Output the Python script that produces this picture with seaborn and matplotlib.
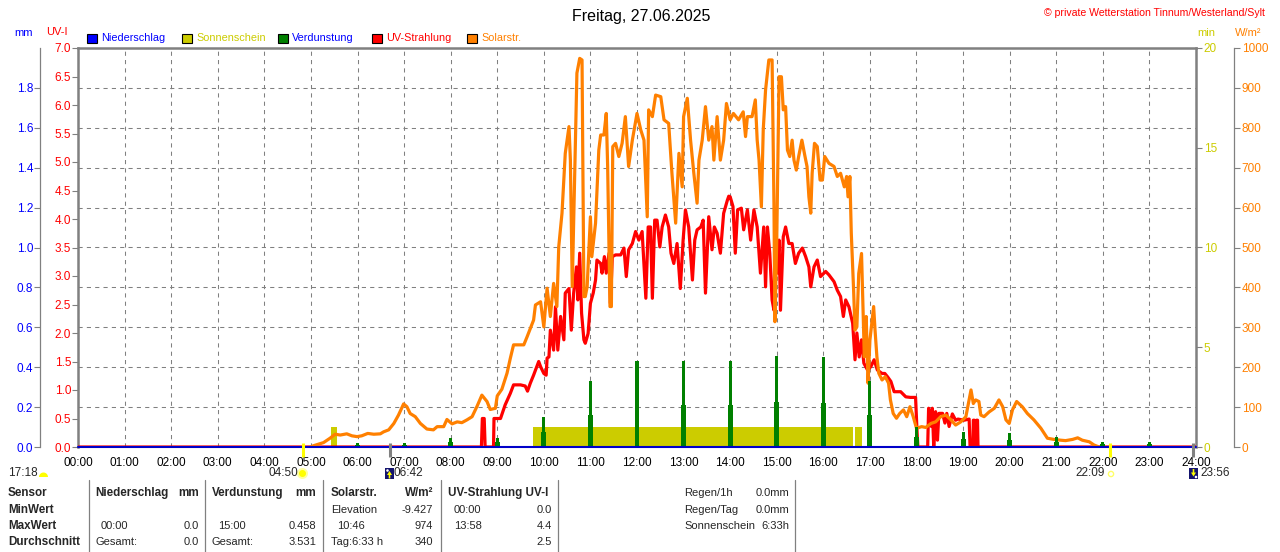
import numpy as np
import pandas as pd
import matplotlib
matplotlib.use("Agg")
import matplotlib.pyplot as plt
import seaborn as sns
from matplotlib.patches import Rectangle, Polygon
from matplotlib.lines import Line2D
from matplotlib.ticker import FormatStrFormatter

# ---------------- data ----------------
hours = list(range(25))
hour_labels = [f"{h:02d}:00" for h in hours]

solar_time = [
    5.00, 5.05, 5.27, 5.41, 5.52, 5.63, 5.77, 5.88, 5.99, 6.09,
    6.22, 6.35, 6.49, 6.56, 6.67, 6.78, 6.88, 6.99, 7.06, 7.13,
    7.24, 7.35, 7.49, 7.63, 7.71, 7.85, 7.92, 8.03, 8.14, 8.24,
    8.35, 8.46, 8.57, 8.67, 8.78, 8.85, 8.96, 9.00, 9.10, 9.21,
    9.28, 9.35, 9.57, 9.64, 9.78, 9.82, 9.93, 10.00, 10.07, 10.14,
    10.21, 10.28, 10.32, 10.39, 10.46, 10.54, 10.57, 10.61, 10.68, 10.71,
    10.77, 10.82, 10.86, 10.89, 10.93, 11.00, 11.03, 11.11, 11.18, 11.22,
    11.29, 11.34, 11.37, 11.42, 11.45, 11.48, 11.54, 11.61, 11.68, 11.75,
    11.82, 11.90, 12.00, 12.08, 12.15, 12.22, 12.25, 12.33, 12.40, 12.51,
    12.58, 12.68, 12.75, 12.83, 12.90, 12.97, 13.00, 13.08, 13.15, 13.22,
    13.29, 13.33, 13.40, 13.47, 13.54, 13.61, 13.65, 13.72, 13.79, 13.86,
    13.92, 14.00, 14.07, 14.18, 14.28, 14.33, 14.37, 14.47, 14.54, 14.58,
    14.62, 14.67, 14.71, 14.76, 14.83, 14.90, 14.94, 14.96, 15.00, 15.05,
    15.10, 15.14, 15.19, 15.23, 15.28, 15.33, 15.37, 15.42, 15.47, 15.54,
    15.60, 15.65, 15.69, 15.73, 15.76, 15.81, 15.87, 15.93, 15.98, 16.03,
    16.12, 16.23, 16.30, 16.37, 16.45, 16.50, 16.53, 16.57, 16.60, 16.65,
    16.68, 16.72, 16.76, 16.82, 16.85, 16.88, 16.92, 16.96, 17.00, 17.04,
    17.08, 17.11, 17.15, 17.19, 17.26, 17.33, 17.40, 17.44, 17.50, 17.57,
    17.64, 17.72, 17.79, 17.86, 17.93, 18.00, 18.11, 18.20, 18.31, 18.41,
    18.52, 18.63, 18.74, 18.84, 18.95, 19.06, 19.13, 19.17, 19.22, 19.27,
    19.34, 19.38, 19.45, 19.56, 19.67, 19.77, 19.85, 19.92, 19.99, 20.06,
    20.15, 20.27, 20.38, 20.52, 20.67, 20.81, 20.95, 21.10, 21.20, 21.35,
    21.46, 21.56, 21.71, 21.81, 21.92,
]
solar_wm2 = [
    0, 3, 11, 22, 32, 30, 33, 28, 26, 28,
    34, 32, 33, 38, 43, 59, 80, 108, 101, 84,
    76, 59, 45, 43, 51, 51, 69, 58, 63, 61,
    68, 76, 103, 130, 114, 94, 97, 128, 145, 185,
    222, 256, 256, 276, 318, 356, 364, 301, 398, 327,
    410, 352, 502, 586, 736, 803, 719, 402, 769, 937,
    974, 970, 377, 377, 402, 577, 477, 561, 744, 782,
    782, 836, 703, 352, 352, 753, 761, 728, 761, 828,
    703, 769, 836, 795, 769, 577, 845, 828, 882, 878,
    820, 811, 686, 561, 736, 652, 828, 874, 769, 686,
    611, 719, 769, 853, 769, 803, 719, 828, 719, 769,
    861, 820, 836, 820, 840, 778, 828, 828, 870, 769,
    719, 602, 795, 895, 970, 970, 611, 314, 519, 928,
    928, 845, 853, 744, 728, 769, 719, 694, 728, 769,
    732, 703, 627, 586, 686, 761, 753, 669, 669, 728,
    711, 703, 678, 686, 652, 678, 627, 678, 536, 393,
    293, 301, 435, 485, 352, 226, 327, 160, 268, 310,
    352, 293, 226, 185, 168, 176, 160, 118, 84, 72,
    84, 93, 76, 101, 76, 47, 51, 49, 59, 63,
    76, 80, 68, 55, 63, 76, 118, 143, 109, 118,
    114, 80, 76, 88, 97, 118, 101, 68, 59, 93,
    114, 101, 84, 68, 47, 22, 19, 17, 16, 19,
    23, 17, 13, 5, 0,
]

uv_time = [
    0.00, 8.66, 8.68, 8.72, 8.74, 8.92, 8.93, 9.07, 9.17, 9.28,
    9.35, 9.50, 9.60, 9.65, 9.71, 9.78, 9.89, 9.93, 10.00, 10.05,
    10.07, 10.11, 10.14, 10.21, 10.25, 10.30, 10.36, 10.43, 10.46, 10.54,
    10.59, 10.64, 10.70, 10.73, 10.77, 10.81, 10.86, 10.89, 10.95, 11.00,
    11.06, 11.11, 11.14, 11.22, 11.25, 11.30, 11.34, 11.40, 11.43, 11.47,
    11.54, 11.65, 11.72, 11.77, 11.82, 11.90, 11.97, 12.04, 12.11, 12.19,
    12.24, 12.29, 12.33, 12.38, 12.43, 12.49, 12.54, 12.61, 12.68, 12.73,
    12.79, 12.86, 12.93, 12.99, 13.04, 13.11, 13.19, 13.24, 13.29, 13.37,
    13.42, 13.47, 13.54, 13.61, 13.66, 13.72, 13.79, 13.86, 13.94, 13.97,
    14.00, 14.06, 14.11, 14.16, 14.24, 14.29, 14.37, 14.44, 14.51, 14.58,
    14.65, 14.72, 14.76, 14.80, 14.85, 14.90, 14.94, 14.97, 15.01, 15.05,
    15.08, 15.14, 15.19, 15.26, 15.33, 15.40, 15.47, 15.55, 15.62, 15.69,
    15.73, 15.80, 15.87, 15.94, 16.05, 16.12, 16.23, 16.30, 16.37, 16.43,
    16.48, 16.55, 16.63, 16.68, 16.72, 16.77, 16.82, 16.87, 16.95, 17.02,
    17.09, 17.16, 17.26, 17.32, 17.38, 17.45, 17.52, 17.66, 17.77, 17.87,
    17.98, 18.01, 18.03, 18.24, 18.26, 18.32, 18.34, 18.37, 18.41, 18.45,
    18.48, 18.56, 18.61, 18.65, 18.70, 18.77, 18.84, 18.89, 19.02, 19.13,
    19.15, 19.21, 19.22, 19.24, 19.25, 19.28, 19.29, 19.31, 19.32, 24.00,
]
uv_index = [
    0, 0, 0.50, 0.50, 0, 0, 0.50, 0.50, 0.74, 0.94,
    1.09, 1.09, 1.07, 0.98, 1.12, 1.26, 1.50, 1.41, 1.29, 1.26,
    1.56, 1.58, 2.05, 1.70, 2.46, 1.70, 2.29, 1.88, 2.70, 2.78,
    2.05, 2.70, 3.16, 2.58, 3.40, 2.35, 1.88, 1.82, 1.99, 2.52,
    2.70, 2.93, 3.28, 3.22, 3.05, 3.34, 3.05, 3.40, 2.52, 3.34,
    3.37, 3.37, 3.49, 2.99, 3.46, 3.57, 3.78, 3.63, 3.78, 2.61,
    3.86, 3.86, 2.61, 3.98, 3.98, 3.51, 3.86, 4.07, 3.86, 3.40,
    3.22, 3.57, 2.78, 3.63, 4.16, 3.86, 2.93, 3.63, 3.81, 3.86,
    3.98, 2.70, 4.04, 3.46, 3.86, 3.75, 3.40, 4.10, 4.33, 4.40,
    4.39, 4.22, 3.40, 4.16, 4.19, 3.81, 4.16, 3.63, 4.16, 3.86,
    3.05, 3.86, 2.81, 3.86, 3.40, 2.58, 2.40, 4.10, 3.05, 3.63,
    2.40, 3.69, 3.86, 3.57, 3.57, 3.22, 3.40, 3.49, 3.34, 3.16,
    2.81, 3.16, 3.28, 2.99, 3.08, 3.02, 2.90, 2.75, 2.64, 2.29,
    2.58, 2.46, 2.17, 1.53, 2.00, 1.58, 1.88, 1.47, 1.35, 1.41,
    1.53, 1.35, 1.29, 1.29, 1.23, 1.15, 0.97, 0.97, 0.88, 0.87,
    0.87, 0.30, 0, 0, 0.68, 0.36, 0.68, 0, 0.62, 0.12,
    0.59, 0.59, 0.42, 0.59, 0.36, 0.58, 0.47, 0.49, 0.47, 0.49,
    0, 0, 0.47, 0.47, 0, 0, 0.47, 0.47, 0, 0,
]

evap_hours = [6, 7, 8, 9, 10, 11, 12, 13, 14, 15, 16, 17, 18, 19, 20, 21, 22, 23]
evap_mm = [0.02, 0.02, 0.047, 0.047, 0.15, 0.33, 0.43, 0.43, 0.43, 0.458,
           0.45, 0.33, 0.10, 0.077, 0.072, 0.049, 0.027, 0.027]
evap_side_mm = [0.01, 0.01, 0.025, 0.025, 0.077, 0.16, 0.21, 0.21, 0.21, 0.227,
                0.22, 0.16, 0.05, 0.04, 0.035, 0.025, 0.014, 0.014]

sun_start = [5.44, 9.76, 16.68]
sun_end = [5.56, 16.64, 16.83]
sun_minutes = [1, 1, 1]

rain_time = [0, 24]
rain_mm = [0.0, 0.0]

sunrise, sunset = 4 + 50 / 60, 22 + 9 / 60
moonrise, moonset = 6 + 42 / 60, 23 + 56 / 60

# ---------------- style ----------------
sns.set_theme(style="white")
REGULAR = ["Liberation Sans", "DejaVu Sans"]
plt.rcParams["font.family"] = REGULAR

GRAY = "#808080"
RED = "#FF0000"
ORANGE = "#FF8000"
GREEN = "#008000"
YELLOW = "#CCCC00"
BLUE = "#0000FF"
TICK_FS = 8.5

W, H = 1280, 552
fig = plt.figure(figsize=(12.8, 5.52), dpi=100, facecolor="white")
L, R, T, B = 78, 1196, 48, 447
rect = [L / W, 1 - B / H, (R - L) / W, (B - T) / H]

ax = fig.add_axes(rect)          # host: sunshine minutes (right), grid, x axis
ax_uv = ax.twinx()
ax_sol = ax.twinx()
ax_mm = ax.twinx()
for i, a in enumerate([ax, ax_uv, ax_sol, ax_mm]):
    a.set_zorder(i)
ax.patch.set_facecolor("white")

# sunshine (host)
ax.bar(sun_start, sun_minutes, width=np.array(sun_end) - np.array(sun_start),
       align="edge", color=YELLOW, linewidth=0)

# UV
sns.lineplot(x=uv_time, y=uv_index, ax=ax_uv, color=RED, linewidth=2.3,
             estimator=None, sort=False)
# Solar
sns.lineplot(x=solar_time, y=solar_wm2, ax=ax_sol, color=ORANGE, linewidth=2.3,
             estimator=None, sort=False)
# Evaporation
ax_mm.bar(evap_hours, evap_side_mm, width=0.105, color=GREEN, linewidth=0)
ax_mm.bar(evap_hours, evap_mm, width=0.065, color=GREEN, linewidth=0)
# Rain
sns.lineplot(x=rain_time, y=rain_mm, ax=ax_mm, color="#0000C8", linewidth=1.5,
             estimator=None, sort=False, clip_on=False)

for a in [ax, ax_uv, ax_sol, ax_mm]:
    a.set_xlim(0, 24)
    a.set_xlabel("")
    a.set_ylabel("")

# host axis
ax.set_ylim(0, 20)
ax.set_xticks(hours)
ax.set_xticklabels(hour_labels)
ax.tick_params(axis="x", which="both", length=0, pad=7.5, labelsize=TICK_FS,
               labelcolor="black", bottom=True)
ax.yaxis.tick_right()
ax.set_yticks([0, 5, 10, 15, 20])
ax.set_yticks(np.arange(0, 21, 2), minor=True)
ax.yaxis.remove_overlapping_locs = False
ax.tick_params(axis="y", which="major", right=True, left=False, labelright=True,
               labelleft=False, length=4, width=0.8, color=GRAY,
               labelcolor=YELLOW, labelsize=TICK_FS, pad=1.5)
ax.tick_params(axis="y", which="minor", length=0, right=False, left=False)
ax.grid(False)
ax.yaxis.grid(True, which="minor", color=GRAY, linestyle=(0, (4, 4)), linewidth=0.75)
ax.xaxis.grid(True, which="major", color=GRAY, linestyle=(0, (4, 4)), linewidth=0.75)
for s in ["top", "left", "right"]:
    ax.spines[s].set_color(GRAY)
    ax.spines[s].set_linewidth(1.8)
ax.spines["bottom"].set_visible(False)

# UV axis
ax_uv.set_ylim(0, 7)
ax_uv.yaxis.tick_left()
ax_uv.set_yticks(np.arange(0, 7.01, 0.5))
ax_uv.yaxis.set_major_formatter(FormatStrFormatter("%.1f"))
ax_uv.tick_params(axis="y", left=True, right=False, labelleft=True, labelright=False,
                  length=4, width=0.8, color=GRAY, labelcolor=RED, labelsize=TICK_FS, pad=1)
for s in ax_uv.spines.values():
    s.set_visible(False)

# Solar axis
ax_sol.set_ylim(0, 1000)
ax_sol.set_yticks(np.arange(0, 1001, 100))
ax_sol.tick_params(axis="y", right=True, left=False, labelright=True, labelleft=False,
                   length=4, width=0.8, color=GRAY, labelcolor=ORANGE, labelsize=TICK_FS,
                   pad=1.5)
for s in ["top", "bottom", "left"]:
    ax_sol.spines[s].set_visible(False)
ax_sol.spines["right"].set_position(("axes", (1234 - L) / (R - L)))
ax_sol.spines["right"].set_color(GRAY)
ax_sol.spines["right"].set_linewidth(0.9)

# mm axis
ax_mm.set_ylim(0, 2.0)
ax_mm.yaxis.tick_left()
ax_mm.set_yticks(np.arange(0, 1.81, 0.2))
ax_mm.yaxis.set_major_formatter(FormatStrFormatter("%.1f"))
ax_mm.tick_params(axis="y", left=True, right=False, labelleft=True, labelright=False,
                  length=4, width=0.8, color=GRAY, labelcolor=BLUE, labelsize=TICK_FS, pad=1)
for s in ["top", "bottom", "right"]:
    ax_mm.spines[s].set_visible(False)
ax_mm.spines["left"].set_visible(True)
ax_mm.spines["left"].set_position(("axes", (40 - L) / (R - L)))
ax_mm.spines["left"].set_color(GRAY)
ax_mm.spines["left"].set_linewidth(0.9)

# sun / moon markers at the time axis
trans = ax_mm.get_xaxis_transform()
for t, c in [(sunrise, "#FFFF00"), (sunset, "#FFFF00"), (moonrise, GRAY), (moonset, GRAY)]:
    ax_mm.plot([t, t], [0.01, -0.025], transform=trans, color=c, linewidth=2.2,
               clip_on=False, solid_capstyle="butt")

# ---------------- figure texts ----------------
def ftext(x, y, s, **kw):
    kw.setdefault("va", "center")
    kw.setdefault("fontsize", 8)
    fig.text(x / W, 1 - y / H, s, **kw)


def fpoly(pts, **kw):
    fig.add_artist(Polygon([(x / W, 1 - y / H) for x, y in pts], closed=True,
                           transform=fig.transFigure, **kw))


def frect(x0, y0, x1, y1, **kw):
    fig.add_artist(Rectangle((x0 / W, 1 - y1 / H), (x1 - x0) / W, (y1 - y0) / H,
                             transform=fig.transFigure, **kw))


def fcircle(cx, cy, r, **kw):
    th = np.linspace(0, 2 * np.pi, 40)
    fpoly(list(zip(cx + r * np.cos(th), cy + r * np.sin(th))), **kw)


ftext(641.5, 16, "Freitag, 27.06.2025", ha="center", fontsize=11.5, color="black")
ftext(1265, 12.5, "\u00a9 private Wetterstation Tinnum/Westerland/Sylt", ha="right",
      color=RED, fontsize=7.6)

ftext(14, 33, "mm", ha="left", color=BLUE, fontsize=8)
ftext(46, 32, "UV-I", ha="left", color=RED, fontsize=8)
ftext(1197, 33, "min", ha="left", color=YELLOW, fontsize=8)
ftext(1235, 33, "W/m\u00b2", ha="left", color=ORANGE, fontsize=8)

legend_items = [
    (87, "Niederschlag", BLUE, BLUE),
    (182, "Sonnenschein", YELLOW, YELLOW),
    (277.5, "Verdunstung", GREEN, BLUE),
    (372, "UV-Strahlung", RED, RED),
    (467, "Solarstr.", ORANGE, ORANGE),
]
for x0, lab, fc, tc in legend_items:
    frect(x0, 33.5, x0 + 10, 42.5, facecolor=fc, edgecolor="black", linewidth=0.8)
    ftext(x0 + 14, 38, lab, ha="left", color=tc, fontsize=7.8)

# sun / moon time labels
ftext(8, 473.5, "17:18", ha="left", fontsize=TICK_FS)
th = np.linspace(0, np.pi, 20)
fpoly(list(zip(43.5 + 4.5 * np.cos(th), 477 - 4.5 * np.sin(th))), facecolor="#FFFF00",
      edgecolor="none")
ftext(298, 473.5, "04:50", ha="right", fontsize=TICK_FS)
fcircle(302.5, 473.5, 5.5, facecolor="#FFFFA0", edgecolor="none")
fcircle(302.5, 473.5, 3.5, facecolor="#FFFF00", edgecolor="none")
frect(385, 468, 393.5, 479, facecolor="#14146E", edgecolor="none")
fcircle(387.5, 470.5, 1.3, facecolor="white", edgecolor="none")
fpoly([(389.5, 471), (392, 475), (390.3, 475), (390.3, 478.5), (388.7, 478.5),
       (388.7, 475), (387, 475)], facecolor="#FFFF00", edgecolor="none")
ftext(394, 473.5, "06:42", ha="left", fontsize=TICK_FS)
ftext(1105, 473.5, "22:09", ha="right", fontsize=TICK_FS)
fcircle(1111, 474, 2.6, facecolor="none", edgecolor="#FFFF66", linewidth=1)
frect(1189, 468, 1198, 479, facecolor="#14146E", edgecolor="none")
fcircle(1196, 477, 1.3, facecolor="white", edgecolor="none")
fpoly([(1193.5, 476.5), (1191, 472.5), (1192.7, 472.5), (1192.7, 469), (1194.3, 469),
       (1194.3, 472.5), (1196, 472.5)], facecolor="#FFFF00", edgecolor="none")
ftext(1200, 473.5, "23:56", ha="left", fontsize=TICK_FS)

# table separators
for xs in [89, 205, 323, 441, 558, 795]:
    fig.add_artist(Line2D([xs / W, xs / W], [1 - 480 / H, 0], color=GRAY,
                          linewidth=0.9, transform=fig.transFigure))

rows = [493, 510, 526, 542]
BOLD = dict(fontweight="bold", fontsize=8.4)
REG = dict(fontsize=8)
ftext(8, rows[0], "Sensor", ha="left", **BOLD)
ftext(8, rows[1], "MinWert", ha="left", **BOLD)
ftext(8, rows[2], "MaxWert", ha="left", **BOLD)
ftext(8, rows[3], "Durchschnitt", ha="left", **BOLD)
ftext(95, rows[0], "Niederschlag", ha="left", **BOLD)
ftext(199, rows[0], "mm", ha="right", **BOLD)
ftext(212, rows[0], "Verdunstung", ha="left", **BOLD)
ftext(316, rows[0], "mm", ha="right", **BOLD)
ftext(331, rows[0], "Solarstr.", ha="left", **BOLD)
ftext(433, rows[0], "W/m\u00b2", ha="right", **BOLD)
ftext(448, rows[0], "UV-Strahlung UV-I", ha="left", **BOLD)

ftext(331, rows[1], "Elevation", ha="left", **REG)
ftext(433, rows[1], "-9.427", ha="right", **REG)
ftext(454, rows[1], "00:00", ha="left", **REG)
ftext(552, rows[1], "0.0", ha="right", **REG)

ftext(101, rows[2], "00:00", ha="left", **REG)
ftext(199, rows[2], "0.0", ha="right", **REG)
ftext(218, rows[2], "15:00", ha="left", **REG)
ftext(316, rows[2], "0.458", ha="right", **REG)
ftext(337, rows[2], "10:46", ha="left", **REG)
ftext(433, rows[2], "974", ha="right", **REG)
ftext(454, rows[2], "13:58", ha="left", **REG)
ftext(552, rows[2], "4.4", ha="right", **REG)

ftext(95, rows[3], "Gesamt:", ha="left", **REG)
ftext(199, rows[3], "0.0", ha="right", **REG)
ftext(212, rows[3], "Gesamt:", ha="left", **REG)
ftext(316, rows[3], "3.531", ha="right", **REG)
ftext(331, rows[3], "Tag:6:33 h", ha="left", **REG)
ftext(433, rows[3], "340", ha="right", **REG)
ftext(552, rows[3], "2.5", ha="right", **REG)

ftext(684, rows[0], "Regen/1h", ha="left", **REG)
ftext(789, rows[0], "0.0mm", ha="right", **REG)
ftext(684, rows[1], "Regen/Tag", ha="left", **REG)
ftext(789, rows[1], "0.0mm", ha="right", **REG)
ftext(684, rows[2], "Sonnenschein", ha="left", **REG)
ftext(789, rows[2], "6:33h", ha="right", **REG)

fig.savefig("out.png", dpi=100, facecolor="white")
